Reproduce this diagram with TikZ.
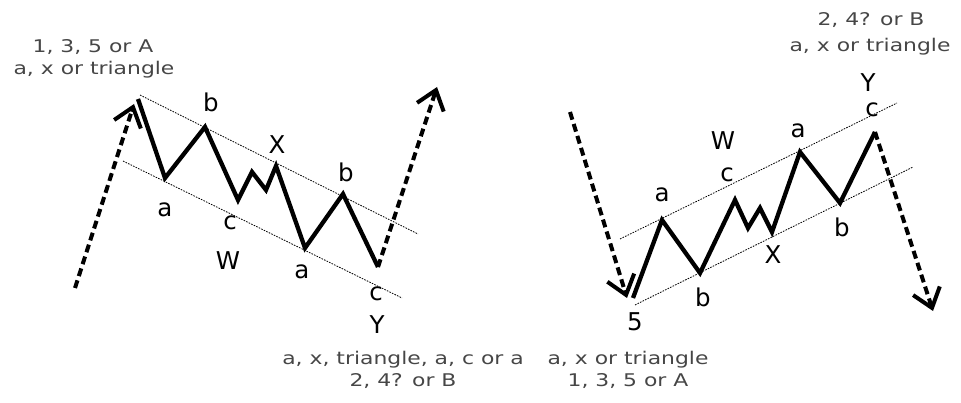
\documentclass[tikz,border=0pt]{standalone}
\usepackage{fontspec}
\setmainfont{DejaVu Sans}
\newfontfamily\capfont[FakeStretch=1.25]{DejaVu Sans}
\usetikzlibrary{arrows.meta,calc}
\definecolor{capgray}{RGB}{70,70,70}
\begin{document}
\begin{tikzpicture}[x=1pt,y=-1pt,
  wave/.style={line width=4.3pt, line join=miter, miter limit=3},
  chan/.style={line width=0.8pt, dash pattern=on 1.6pt off 1.2pt},
  trend/.style={line width=4pt, dash pattern=on 8pt off 4.5pt, shorten >=6pt},
  tiphead/.style={line width=4pt, -{Straight Barb[length=18pt,width=28pt,line width=4pt]}},
  lbl/.style={font=\fontsize{24.5}{24.5}\selectfont, inner sep=0pt},
  captext/.style={font=\capfont\fontsize{17.5}{23}\selectfont, text=capgray, align=center, inner sep=0pt}]
\useasboundingbox (0,0) rectangle (961,403);
% ---------- left pattern ----------
\coordinate (L0) at (138,99);
\coordinate (La) at (165,178);
\coordinate (Lb) at (205,127);
\coordinate (Lc) at (238,200);
\coordinate (Lp) at (252,172);
\coordinate (Ld) at (266,190);
\coordinate (LX) at (276,166);
\coordinate (La2) at (305,248);
\coordinate (Lb2) at (343,194);
\coordinate (Lc2) at (378,267);
\coordinate (LS) at (75,288);
\coordinate (LT) at (134,104);
\coordinate (LE) at (437,87);
\coordinate (LU1) at (140,95);
\coordinate (LU2) at (418,234);
\coordinate (LL1) at (123,161);
\coordinate (LL2) at (402,298);
\draw[chan] (LU1) -- (LU2);
\draw[chan] (LL1) -- (LL2);
\draw[trend] (LS) -- (LT);
\draw[tiphead] ($(LT)!8pt!(LS)$) -- (LT);
\draw[wave] (L0) -- (La) -- (Lb) -- (Lc) -- (Lp) -- (Ld) -- (LX) -- (La2) -- (Lb2) -- (Lc2);
\draw[trend] (Lc2) -- (LE);
\draw[tiphead] ($(LE)!8pt!(Lc2)$) -- (LE);
\node[lbl] (lb1) at (211,102) {b};
\node[lbl] (lx) at (277,145) {X};
\node[lbl] (lb2) at (346,172) {b};
\node[lbl] (la1) at (165,210) {a};
\node[lbl] (lc1) at (230,223) {c};
\node[lbl] (lw) at (228,261) {W};
\node[lbl] (la2) at (302,272) {a};
\node[lbl] (lc2) at (376,294) {c};
\node[lbl] (ly) at (377,325) {Y};
\node[captext] (lt1) at (93,47) {1, 3, 5 or A};
\node[captext] (lt2) at (94,70) {a, x or triangle};
\node[captext] (lb1t) at (403,360) {a, x, triangle, a, c or a};
\node[captext] (lb2t) at (403,381) {2, 4? or B};
% ---------- right pattern ----------
\coordinate (R0) at (633,298);
\coordinate (Ra) at (662,220);
\coordinate (Rb) at (700,273);
\coordinate (Rc) at (735,200);
\coordinate (Rd) at (748,228);
\coordinate (Rp) at (760,208);
\coordinate (RX) at (772,232);
\coordinate (Ra2) at (800,152);
\coordinate (Rb2) at (840,203);
\coordinate (Rc2) at (875,132);
\coordinate (RS) at (570,112);
\coordinate (RT) at (627,298);
\coordinate (RE) at (933,311);
\coordinate (RU1) at (620,239);
\coordinate (RU2) at (897,103);
\coordinate (RL1) at (635,305);
\coordinate (RL2) at (913,167);
\draw[chan] (RU1) -- (RU2);
\draw[chan] (RL1) -- (RL2);
\draw[trend] (RS) -- (RT);
\draw[tiphead] ($(RT)!8pt!(RS)$) -- (RT);
\draw[wave] (R0) -- (Ra) -- (Rb) -- (Rc) -- (Rd) -- (Rp) -- (RX) -- (Ra2) -- (Rb2) -- (Rc2);
\draw[trend] (Rc2) -- (RE);
\draw[tiphead] ($(RE)!8pt!(Rc2)$) -- (RE);
\node[lbl] (ra1) at (662,195) {a};
\node[lbl] (rw) at (723,141) {W};
\node[lbl] (rc1) at (727,175) {c};
\node[lbl] (ra2) at (798,131) {a};
\node[lbl] (ry) at (868,83) {Y};
\node[lbl] (rc2) at (872,110) {c};
\node[lbl] (rx) at (773,255) {X};
\node[lbl] (rb1) at (703,297) {b};
\node[lbl] (rb2) at (842,227) {b};
\node[lbl] (r5) at (635,322) {5};
\node[captext] (rt1) at (871,20) {2, 4? or B};
\node[captext] (rt2) at (870,47) {a, x or triangle};
\node[captext] (rb1t) at (628,360) {a, x or triangle};
\node[captext] (rb2t) at (628,381) {1, 3, 5 or A};
\end{tikzpicture}
\end{document}
